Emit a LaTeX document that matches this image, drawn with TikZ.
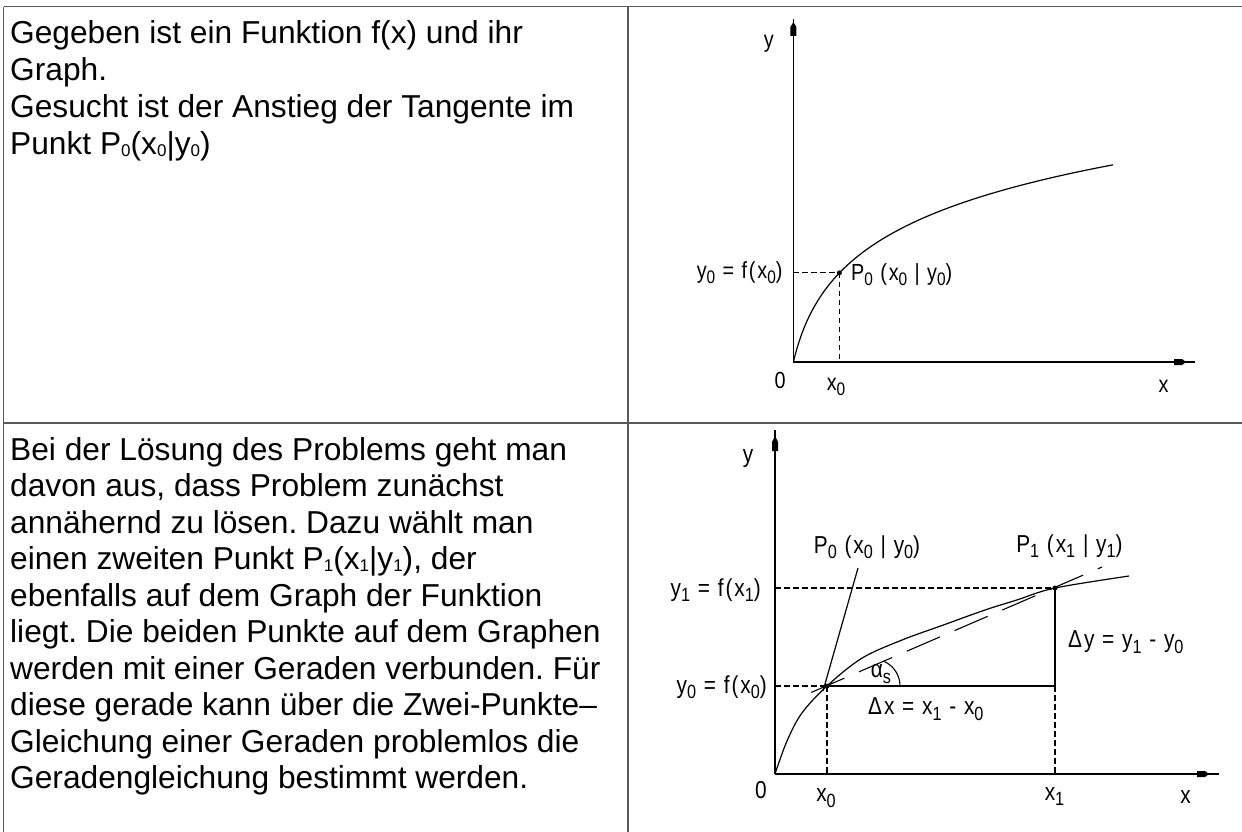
\documentclass[tikz,border=0pt]{standalone}
\usepackage{fontspec}
\setmainfont{Liberation Sans}
\newfontfamily\lblfont[FakeStretch=0.85,LetterSpace=8]{Liberation Sans}
\newcommand\tsub[1]{\raisebox{-0.06em}{\fontsize{17}{17}\selectfont #1}}
\newcommand\lsub[1]{\raisebox{-0.22em}{\scalebox{0.78}{#1}}}
\frenchspacing
\begin{document}
\begin{tikzpicture}[x=1pt,y=-1pt,
  tline/.style={draw=black!65, line width=1.4pt},
  axis/.style={line width=1.5pt},
  curve/.style={line width=1.2pt},
  dsh/.style={line width=1.1pt, dash pattern=on 5.5pt off 3.5pt},
  sec/.style={line width=1.1pt, dash pattern=on 36pt off 16pt},
  lblA/.style={inner sep=0pt, font=\lblfont\fontsize{23.3}{26}\selectfont},
  lblB/.style={inner sep=0pt, font=\lblfont\fontsize{24.5}{27}\selectfont},
  txt/.style={inner sep=0pt, anchor=base west, font=\fontsize{31.7}{36.5}\selectfont},
  pt/.style={circle, fill=black, inner sep=0pt, minimum size=5pt}]
\useasboundingbox (0,0) rectangle (1242,832);
\fill[white] (0,0) rectangle (1242,832);
% table
\coordinate (TL) at (3.5,6.7);
\coordinate (TR) at (1242,6.7);
\coordinate (ML) at (3.5,423);
\coordinate (MR) at (1242,423);
\coordinate (BL) at (3.5,832);
\coordinate (CT) at (628,6.7);
\coordinate (CB) at (628,832);
\draw[tline] (TL) -- (TR);
\draw[tline] (ML) -- (MR);
\draw[tline] (TL) -- (BL);
\draw[tline] (CT) -- (CB);
% text row 1
\node[txt] (a1) at (10,43.7) {Gegeben ist ein Funktion f(x) und ihr};
\node[txt] (a2) at (10,80.7) {Graph.};
\node[txt] (a3) at (10,117.7) {Gesucht ist der Anstieg der Tangente im};
\node[txt] (a4) at (10,154.7) {Punkt P\tsub{0}(x\tsub{0}|y\tsub{0})};
% text row 2
\node[txt] (b1) at (10,460) {Bei der Lösung des Problems geht man};
\node[txt] (b2) at (10,496.5) {davon aus, dass Problem zunächst};
\node[txt] (b3) at (10,533) {annähernd zu lösen. Dazu wählt man};
\node[txt] (b4) at (10,569.5) {einen zweiten Punkt P\tsub{1}(x\tsub{1}|y\tsub{1}), der};
\node[txt] (b5) at (10,606) {ebenfalls auf dem Graph der Funktion};
\node[txt] (b6) at (10,642.5) {liegt. Die beiden Punkte auf dem Graphen};
\node[txt] (b7) at (10,679) {werden mit einer Geraden verbunden. Für};
\node[txt] (b8) at (10,715.5) {diese gerade kann über die Zwei-Punkte–};
\node[txt] (b9) at (10,752) {Gleichung einer Geraden problemlos die};
\node[txt] (b10) at (10,788.5) {Geradengleichung bestimmt werden.};
% ---------- diagram 1
\coordinate (O1) at (793.4,362);
\coordinate (Y1) at (793.4,19);
\coordinate (X1) at (1195,362);
\draw[axis] (O1) -- (Y1);
\draw[axis] (O1) -- (X1);
\fill (790.4,36) -- (796.4,36) -- (796.4,27) -- (793.4,22) -- (790.4,27) -- cycle;
\fill (1174,359) -- (1182,359) -- (1186,362) -- (1182,365) -- (1174,365) -- cycle;
\draw[curve] plot[domain=0:319.6, samples=120, smooth] ({793.4+\x},{362-63.5*ln(1+\x/15)});
\coordinate (A0) at (839.4,272.9);
\coordinate (A0y) at (793.4,272.9);
\coordinate (A0x) at (839.4,362);
\draw[dsh] (A0y) -- (A0);
\draw[dsh] (A0) -- (A0x);
\node[pt] (P0a) at (A0) {};
\node[lblA] (ya) at (768.8,43.3) {y};
\node[lblA] (oa) at (780,380) {0};
\node[lblA] (x0a) at (836,386.7) {x\lsub{0}};
\node[lblA] (xa) at (1163.6,386.7) {x};
\node[lblA, anchor=east] (fa) at (782.7,273) {y\lsub{0} = f(x\lsub{0})};
\node[lblA, anchor=west] (pa) at (851,275) {P\lsub{0} (x\lsub{0} | y\lsub{0})};
% ---------- diagram 2
\coordinate (O2) at (775,774);
\coordinate (Y2) at (775,430);
\coordinate (X2) at (1219,774);
\draw[axis] (O2) -- (Y2);
\draw[axis] (O2) -- (X2);
\fill (772,451) -- (778,451) -- (778,442) -- (775,436) -- (772,442) -- cycle;
\fill (1197,771) -- (1205,771) -- (1209,774) -- (1205,777) -- (1197,777) -- cycle;
\draw[curve] plot[smooth, tension=0.55] coordinates {(775,774) (786.7,741.7) (801.7,713.3) (827,686) (861.7,658.3) (902,640) (942,625.5) (985,610) (1016.8,600) (1055,588) (1129,576)};
\coordinate (B0) at (827,686);
\coordinate (B1) at (1055,588);
\coordinate (B0y) at (775,686);
\coordinate (B1y) at (775,588);
\coordinate (B0x) at (827,774);
\coordinate (C) at (1055,686);
\coordinate (B1x) at (1055,774);
\draw[dsh] (B1y) -- (B1);
\draw[dsh] (B0y) -- (B0);
\draw[dsh] (B0) -- (B0x);
\draw[dsh] (C) -- (B1x);
\draw[curve] (B0) -- (C);
\draw[curve] (C) -- (B1);
\coordinate (S0) at (811.3,692.4);
\coordinate (S1) at (1102,567);
\draw[sec] (S0) -- (S1);
\coordinate (T0) at (823,691);
\coordinate (T1) at (858,568);
\draw[curve] (T0) -- (T1);
\coordinate (AR) at (900,686);
\draw[line width=1.1pt] (AR) arc[start angle=0, end angle=-66, radius=27];
\node[pt] (P0b) at (B0) {};
\node[pt] (P1b) at (B1) {};
\node[lblB] (yb) at (748,458.3) {y};
\node[lblB] (ob) at (761,790) {0};
\node[lblB] (x0b) at (826,798) {x\lsub{0}};
\node[lblB] (x1b) at (1054.5,796.7) {x\lsub{1}};
\node[lblB] (xb) at (1185.5,796.7) {x};
\node[lblB, anchor=east] (f1b) at (761,590) {y\lsub{1} = f(x\lsub{1})};
\node[lblB, anchor=east] (f0b) at (767,687) {y\lsub{0} = f(x\lsub{0})};
\node[lblB] (p0b) at (867,547.5) {P\lsub{0} (x\lsub{0} | y\lsub{0})};
\node[lblB] (p1b) at (1069.4,546) {P\lsub{1} (x\lsub{1} | y\lsub{1})};
\node[lblB, anchor=west] (dyb) at (1068,642) {Δy = y\lsub{1} - y\lsub{0}};
\node[lblB, anchor=west] (dxb) at (868,709) {Δx = x\lsub{1} - x\lsub{0}};
\node[lblB] (al) at (881,674) {α\lsub{s}};
\end{tikzpicture}
\end{document}
